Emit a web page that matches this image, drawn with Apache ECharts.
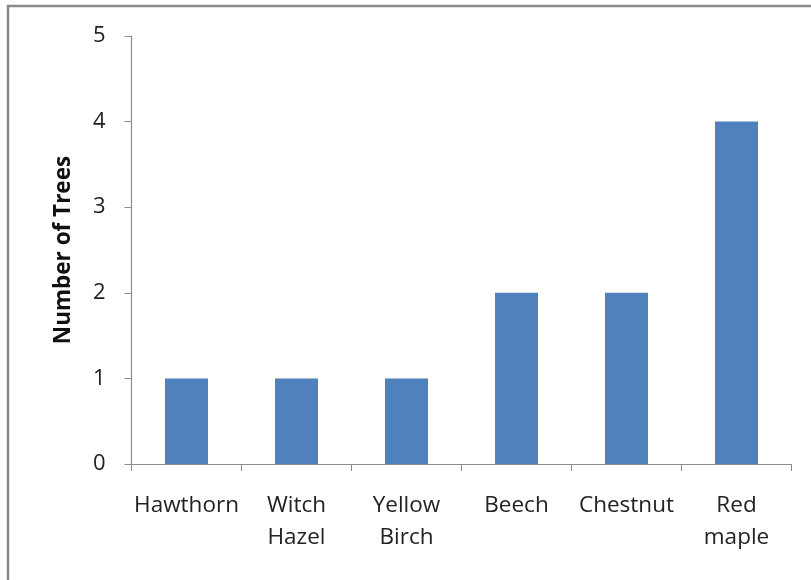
<!DOCTYPE html>
<html><head><meta charset="utf-8">
<script src="https://cdn.jsdelivr.net/npm/echarts@6/dist/echarts.min.js"></script>
<style>html,body{margin:0;padding:0;background:#fff}#c{width:811px;height:580px}</style>
</head><body><div id="c"></div>
<script>
const categories = ['Hawthorn', 'Witch\nHazel', 'Yellow\nBirch', 'Beech', 'Chestnut', 'Red\nmaple'];
const treeCounts = [1, 1, 1, 2, 2, 4];
const yTicks = [0, 1, 2, 3, 4, 5];
const yLabel = 'Number of Trees';

const chart = echarts.init(document.getElementById('c'));
const font = '"Open Sans", "Liberation Sans", sans-serif';
chart.setOption({
  animation: false,
  graphic: [{
    type: 'rect', shape: { x: 8, y: 6, width: 900, height: 700 },
    style: { fill: 'none', stroke: '#8a8a8a', lineWidth: 2.5 }
  }],
  grid: { left: 131.5, right: 19.5, top: 36, bottom: 116 },
  xAxis: {
    type: 'category', data: categories,
    axisLine: { lineStyle: { color: '#8c8c8c', width: 1.2 } },
    axisTick: { show: true, length: 7, lineStyle: { color: '#8c8c8c' } },
    axisLabel: { interval: 0, fontFamily: font, fontSize: 22.5, color: '#222', margin: 26, lineHeight: 32 }
  },
  yAxis: {
    type: 'value', min: yTicks[0], max: yTicks[yTicks.length - 1], interval: 1,
    name: yLabel, nameLocation: 'middle', nameGap: 56, nameRotate: 90,
    nameTextStyle: { fontFamily: font, fontSize: 22.5, fontWeight: 'bold', color: '#111' },
    axisLine: { show: true, lineStyle: { color: '#8c8c8c', width: 1.2 } },
    axisTick: { show: true, length: 7, lineStyle: { color: '#8c8c8c' } },
    splitLine: { show: false },
    axisLabel: { fontFamily: font, fontSize: 22, color: '#222', margin: 26 }
  },
  series: [{
    type: 'bar', data: treeCounts, barWidth: 43,
    itemStyle: { color: '#4f81bd' }
  }]
});
</script></body></html>
